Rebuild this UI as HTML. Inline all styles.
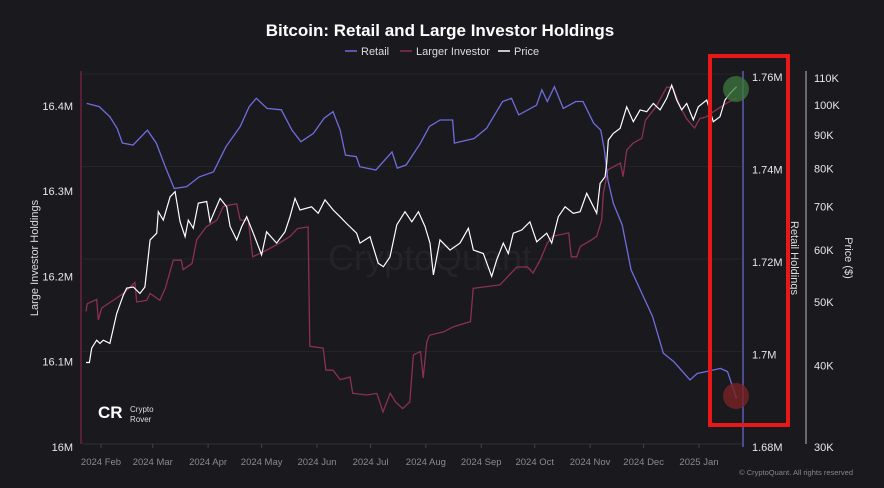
<!DOCTYPE html>
<html><head><meta charset="utf-8">
<style>
html,body{margin:0;padding:0;background:#19191e;}
body{width:884px;height:483px;overflow:hidden;font-family:"Liberation Sans",sans-serif;}
svg text{font-family:"Liberation Sans",sans-serif;}
</style></head>
<body>
<svg id="chart" width="884" height="483" viewBox="0 0 884 483" xmlns="http://www.w3.org/2000/svg">
<rect width="884" height="483" fill="#19191e"/>
<text x="440" y="36" text-anchor="middle" fill="#ffffff" font-size="17" font-weight="bold">Bitcoin: Retail and Large Investor Holdings</text>
<g>
 <g><line x1="345" y1="51" x2="357" y2="51" stroke="#6f6cdc" stroke-width="1.5"/><text x="361" y="55" fill="#ddd" font-size="11">Retail</text></g>
 <g><line x1="400" y1="51" x2="412" y2="51" stroke="#8a3050" stroke-width="1.5"/><text x="416" y="55" fill="#ddd" font-size="11">Larger Investor</text></g>
 <g><line x1="498" y1="51" x2="510" y2="51" stroke="#fff" stroke-width="1.5"/><text x="514" y="55" fill="#ddd" font-size="11">Price</text></g>
</g>
<text x="430" y="270" text-anchor="middle" fill="#232329" font-size="36">CryptoQuant</text>
<g id="grid"></g>
<g id="axes"></g>
<g id="series"></g>
<g>
 <text x="98" y="418" fill="#fff" font-size="17" font-weight="bold">CR</text>
 <text x="130" y="412" fill="#ddd" font-size="8">Crypto</text>
 <text x="130" y="422" fill="#ddd" font-size="8">Rover</text>
</g>
<text x="38" y="258" transform="rotate(-90 38 258)" text-anchor="middle" fill="#ddd" font-size="11">Large Investor Holdings</text>
<text x="791" y="258" transform="rotate(90 791 258)" text-anchor="middle" fill="#ddd" font-size="11">Retail Holdings</text>
<text x="845" y="258" transform="rotate(90 845 258)" text-anchor="middle" fill="#ddd" font-size="11">Price ($)</text>
<circle cx="736" cy="89" r="13" fill="rgba(60,120,60,0.75)"/>
<circle cx="736" cy="396" r="13" fill="rgba(120,35,35,0.8)"/>
<rect x="710" y="56" width="78" height="369" fill="none" stroke="#e81818" stroke-width="4"/>
<text x="853" y="475" text-anchor="end" fill="#888" font-size="7.5">© CryptoQuant. All rights reserved</text>
</svg>
<script>
const xTickLabels = ["2024 Feb","2024 Mar","2024 Apr","2024 May","2024 Jun","2024 Jul","2024 Aug","2024 Sep","2024 Oct","2024 Nov","2024 Dec","2025 Jan"];
const xTickDays = [0,29,60,90,121,151,182,213,243,274,304,335];
const leftTicks = [16.0,16.1,16.2,16.3,16.4];
const leftTickLabels = ["16M","16.1M","16.2M","16.3M","16.4M"];
const retailTicks = [1.68,1.70,1.72,1.74,1.76];
const retailTickLabels = ["1.68M","1.7M","1.72M","1.74M","1.76M"];
const priceTicks = [30000,40000,50000,60000,70000,80000,90000,100000,110000];
const priceTickLabels = ["30K","40K","50K","60K","70K","80K","90K","100K","110K"];

const retailDays = [-8,-1,5,9,12,18,26,31,36,41,48,55,63,70,78,83,87,93,101,107,112,119,125,130,134,137,143,145,154,163,166,171,179,184,190,197,198,209,216,225,230,234,244,247,250,254,259,266,270,276,280,282,284,287,292,297,303,309,315,321,330,334,339,347,351,356];
const retailValues = [1.7543,1.7536,1.7514,1.7489,1.7457,1.7453,1.7485,1.7457,1.7406,1.7359,1.7363,1.7384,1.7395,1.7449,1.7493,1.7536,1.7554,1.7532,1.7529,1.7485,1.7460,1.7478,1.7511,1.7525,1.7485,1.7431,1.7428,1.7406,1.7399,1.7438,1.7403,1.7410,1.7457,1.7493,1.7507,1.7507,1.7457,1.7467,1.7489,1.7547,1.7554,1.7518,1.7539,1.7572,1.7547,1.7579,1.7532,1.7547,1.7547,1.7500,1.7485,1.7442,1.7377,1.7327,1.7280,1.7183,1.7132,1.7082,1.7003,1.6984,1.6945,1.6959,1.6963,1.6970,1.6963,1.6905];

const largeDays = [-8.4,-7.7,-2.4,-1.5,0.4,12.5,19,20,25.6,27.5,33,36,40.5,45,46,51,53.6,59,65,68.5,73,76,78,82.5,85,93,100,106,110,116,117,124.5,126,130,134,139.5,141,149,154.5,158,162,165,169,173,175,179,180.5,182.5,184,192,197.5,207,208.5,223.5,233,239,242,246,250,253,262,263.5,266.5,268.5,275,277.7,280.5,281.4,284,291,292.5,294.5,298,303,305,311,317,320.5,324.5,328,332.5,335.5,339,344.5,350.5,356];
const largeValues = [16.159,16.168,16.173,16.149,16.163,16.180,16.193,16.170,16.172,16.180,16.172,16.186,16.219,16.219,16.208,16.215,16.243,16.258,16.266,16.282,16.284,16.285,16.266,16.266,16.223,16.231,16.239,16.247,16.256,16.258,16.118,16.116,16.090,16.090,16.079,16.082,16.063,16.061,16.063,16.041,16.063,16.053,16.045,16.053,16.108,16.112,16.081,16.123,16.131,16.135,16.141,16.147,16.186,16.190,16.211,16.211,16.204,16.219,16.239,16.247,16.251,16.223,16.223,16.235,16.243,16.247,16.266,16.297,16.325,16.333,16.317,16.348,16.356,16.362,16.383,16.399,16.422,16.421,16.399,16.385,16.374,16.385,16.387,16.395,16.403,16.409];

const priceDays = [-8.4,-6.5,-5.2,-2.4,-0.6,1.3,5,8.8,12.5,14.4,18.1,21.8,24.6,27.5,31.2,32.1,34.9,38.7,41.5,44.3,47.1,48.9,51.7,54.5,59.2,61.1,63.9,66.7,70.4,72.3,76,78.8,81.6,85.3,90,92.8,98.4,103.1,105.9,108.7,111.5,118,121.7,125.5,130.1,133.9,137.6,143.2,145.1,150.7,155.3,158.2,161.9,165.7,170.3,174.1,177.8,181.5,184.3,186.2,189.9,195.5,201.1,205.8,208.6,214.2,218.9,221.7,225.4,228.2,231,235.7,240.3,244.1,249.7,252.5,256.2,260,264.6,268.4,272.1,277.7,279.6,282.4,283.3,284.2,287,290.8,294.5,298.2,302,305.7,309.4,313.2,316.9,319.7,322.5,325.3,328.1,331.8,334.6,339.3,343,346.8,349.6,352.4,356.1];
const priceValues = [40400,40400,42500,43700,43200,43700,43200,48000,51200,52500,52700,51500,52700,62200,63700,68700,66700,72400,73700,66300,62900,66700,64800,70800,71200,66300,69100,72000,69900,65200,62200,65200,67500,63700,59000,64000,61500,64000,67500,72000,69100,69900,68300,71600,69100,67500,65900,63700,61500,62900,57300,56600,58600,65600,68700,66300,68700,65200,61500,55000,62200,60000,61500,64800,60000,59300,54700,58000,61500,59300,63700,64400,66300,61800,63700,61500,67500,69900,68300,68700,73300,68300,75900,77700,81500,88400,90500,92100,99400,94300,98300,97700,100600,98300,102400,107300,101800,98300,100600,94900,99400,101800,94300,96000,101800,104200,106700];

const NS = "http://www.w3.org/2000/svg";
function xScale(d){ return 101 + d*1.785; }
function yLeft(v){ return 447 - (v-16.0)*853; }
function yRetail(v){ return 447 - (v-1.68)*4625; }
function yPrice(p){ return 447 - Math.log(p/30000)*284; }
function mk(tag, attrs, parent){ const e=document.createElementNS(NS,tag); for(const k in attrs) e.setAttribute(k,attrs[k]); parent.appendChild(e); return e; }

const grid=document.getElementById('grid'), axes=document.getElementById('axes'), series=document.getElementById('series');
retailTicks.forEach(function(v){
  const g=mk('line',{x1:82,x2:742,y1:yRetail(v)-3,y2:yRetail(v)-3,stroke:'#232328','stroke-width':1},grid);
  
  
});
let la=mk('line',{x1:81,x2:81,y1:71,y2:444,stroke:'#6a2440','stroke-width':1.5},axes);


leftTicks.forEach(function(v,i){
  const t=mk('text',{x:73,y:yLeft(v)+4,'text-anchor':'end',fill:'#e6e6e6','font-size':11},axes);
  t.textContent=leftTickLabels[i];
  
  
});
let ra=mk('line',{x1:743,x2:743,y1:71,y2:447,stroke:'#6f6cdc','stroke-width':1.2},axes);


retailTicks.forEach(function(v,i){
  const t=mk('text',{x:752,y:yRetail(v)+4,fill:'#e6e6e6','font-size':11},axes);
  t.textContent=retailTickLabels[i];
  
  
});
let pa=mk('line',{x1:806,x2:806,y1:71,y2:444,stroke:'#bbbbbb','stroke-width':1},axes);


priceTicks.forEach(function(v,i){
  const t=mk('text',{x:814,y:yPrice(v)+4,fill:'#e6e6e6','font-size':11},axes);
  t.textContent=priceTickLabels[i];
  
  
});
let xb=mk('line',{x1:82,x2:742,y1:444,y2:444,stroke:'#2e2e34','stroke-width':1},axes);


xTickDays.forEach(function(d,i){
  const tk=mk('line',{x1:xScale(d),x2:xScale(d),y1:444,y2:448,stroke:'#444'},axes);
  
  
  const t=mk('text',{x:xScale(d),y:465,'text-anchor':'middle',fill:'#8a8a8f','font-size':9.5},axes);
  t.textContent=xTickLabels[i];
  
  
});
function line(days, vals, yf){
  return days.map(function(d,i){return (i?'L':'M')+xScale(d).toFixed(1)+' '+yf(vals[i]).toFixed(1);}).join(' ');
}
let p1=mk('path',{d:line(largeDays,largeValues,yLeft),fill:'none',stroke:'#8a3050','stroke-width':1.3},series);


let p2=mk('path',{d:line(retailDays,retailValues,yRetail),fill:'none',stroke:'#6f6cdc','stroke-width':1.3},series);


let p3=mk('path',{d:line(priceDays,priceValues,yPrice),fill:'none',stroke:'#ffffff','stroke-width':1.2},series);


</script>
</body></html>
